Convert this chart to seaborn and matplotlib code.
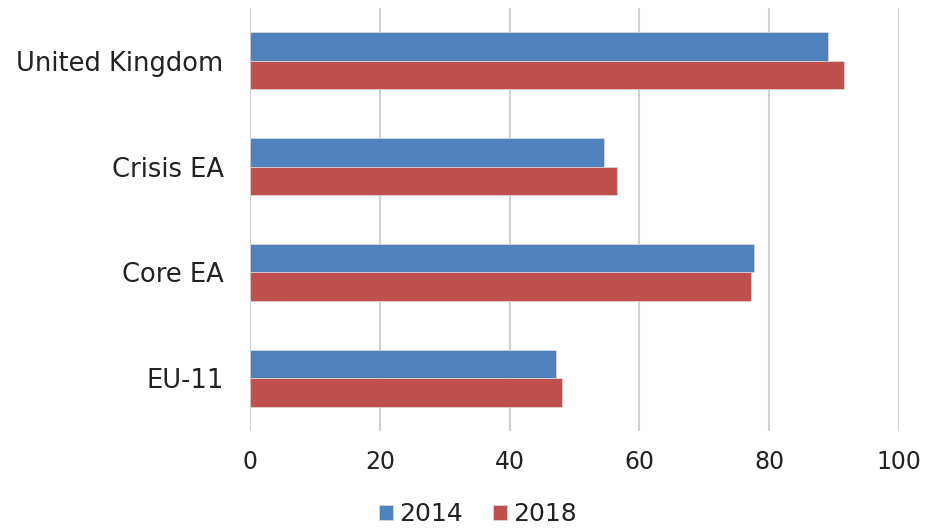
import pandas as pd
import matplotlib
matplotlib.use('Agg')
import matplotlib.pyplot as plt
import seaborn as sns

regions = ['United Kingdom', 'Crisis EA', 'Core EA', 'EU-11']
years = ['2014', '2018']
values_2014 = [89.1, 54.6, 77.6, 47.1]
values_2018 = [91.6, 56.6, 77.2, 48.0]
xticks = [0, 20, 40, 60, 80, 100]
colors = ['#4F81BD', '#C0504D']

df = pd.DataFrame({
    'region': regions * 2,
    'year': [years[0]] * len(regions) + [years[1]] * len(regions),
    'value': values_2014 + values_2018,
})

sns.set_theme(style='white')
plt.rcParams['font.family'] = ['DejaVu Sans']

fig = plt.figure(figsize=(9.26, 5.29), dpi=100)
ax = fig.add_axes([250 / 926, 1 - 431 / 529, 649 / 926, 423 / 529])

sns.barplot(data=df, x='value', y='region', hue='year', order=regions,
            hue_order=years, palette=colors, orient='h', width=0.54,
            saturation=1, ax=ax, legend=True, linewidth=0.5, edgecolor='#dddddd')

ax.set_xlim(0, 100)
ax.set_ylim(3.5, -0.5)
ax.set_xticks(xticks)
ax.set_xticklabels([str(t) for t in xticks], fontsize=17, color='#222222')
ax.tick_params(axis='y', labelsize=18.5, labelcolor='#222222', length=0, pad=19)
ax.tick_params(axis='x', length=0, pad=14)
for lab in ax.get_yticklabels():
    lab.set_va('center_baseline')
ax.set_xlabel('')
ax.set_ylabel('')
ax.grid(True, axis='x', color='#d0d0d0', linewidth=1.5)
ax.set_axisbelow(True)
for s in ax.spines.values():
    s.set_visible(False)

handles, labels = ax.get_legend_handles_labels()
ax.get_legend().remove()
fig.legend(handles, labels, loc='center', bbox_to_anchor=(478 / 926, 1 - 514 / 529),
           ncol=2, frameon=False, fontsize=18, handlelength=0.55, handleheight=0.55,
           handletextpad=0.25, columnspacing=1.2, labelcolor='#222222')

fig.savefig('out.png', dpi=100)
